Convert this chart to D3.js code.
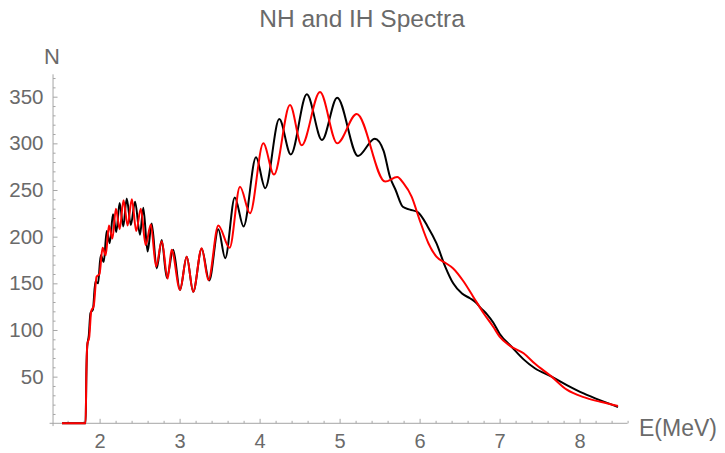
<!DOCTYPE html>
<html><head><meta charset="utf-8">
<script src="https://cdn.jsdelivr.net/npm/d3@7"></script>
<style>
body{margin:0;background:#fff}
text{font-family:"Liberation Sans",Arial,sans-serif}
</style>
</head><body>
<svg id="c" width="725" height="453"></svg>
<script>
const title = "NH and IH Spectra";
const xLabel = "E(MeV)";
const yLabel = "N";
const xTickValues = [2, 3, 4, 5, 6, 7, 8];
const yTickValues = [50, 100, 150, 200, 250, 300, 350];

// NH spectrum (black)
const nhE = [1.53, 1.825, 1.835, 1.845, 1.865, 1.886, 1.917, 1.947, 1.981, 2.014, 2.052, 2.089, 2.127, 2.167, 2.209, 2.25, 2.296, 2.339, 2.39, 2.443, 2.505, 2.546, 2.60, 2.651, 2.714, 2.776, 2.84, 2.92, 3.005, 3.089, 3.17, 3.276, 3.37, 3.484, 3.57, 3.69, 3.80, 3.955, 4.07, 4.246, 4.39, 4.59, 4.78, 4.97, 5.23, 5.44, 5.55, 5.63, 5.70, 5.79, 5.88, 5.98, 6.10, 6.21, 6.32, 6.42, 6.53, 6.63, 6.71, 6.76, 6.84, 6.92, 7.00, 7.15, 7.30, 7.44, 7.65, 7.84, 8.05, 8.26, 8.48];
const nhN = [0, 0, 55, 82, 94, 118, 122, 152, 150, 180, 173, 206, 193, 224, 205, 236, 211, 241, 212.5, 237.5, 202, 231, 184, 214, 166, 196.5, 156, 186, 143, 178.6, 141, 187, 153, 208, 177, 242, 211, 285, 252, 326, 288, 352.6, 303.6, 349, 286.5, 305, 292, 264, 250, 232, 229, 226, 211, 193, 168, 150, 139, 134, 129, 124, 117, 108, 96, 82, 68.5, 59, 50, 41, 32, 24.5, 17.5];

// IH spectrum (red)
const ihE = [1.53, 1.825, 1.835, 1.847, 1.87, 1.895, 1.927, 1.962, 1.999, 2.037, 2.076, 2.117, 2.160, 2.204, 2.251, 2.299, 2.350, 2.403, 2.458, 2.515, 2.576, 2.640, 2.706, 2.777, 2.851, 2.90, 3.005, 3.089, 3.17, 3.276, 3.36, 3.484, 3.625, 3.755, 3.88, 4.046, 4.18, 4.38, 4.526, 4.755, 4.97, 5.214, 5.57, 5.72, 5.80, 5.90, 6.00, 6.11, 6.21, 6.32, 6.42, 6.55, 6.67, 6.80, 6.92, 7.00, 7.13, 7.30, 7.44, 7.65, 7.84, 8.05, 8.26, 8.48];
const ihN = [0, 0, 55, 85, 92, 120, 126, 157, 160, 188, 180, 212, 198, 230, 208, 239, 212, 240, 206, 230, 191, 213, 168, 195, 155, 186, 143, 178.6, 141, 187.6, 153.5, 212, 188, 253.5, 225, 300, 266.6, 341, 298, 355, 300, 331.5, 259, 264, 257, 243, 218, 193, 178.6, 172, 166, 152, 135.7, 118, 103.5, 93, 83, 75, 64, 50, 36, 28, 23, 18.5];

const svg = d3.select("#c");
svg.append("rect").attr("width", 725).attr("height", 453).attr("fill", "#fff");

const x = d3.scaleLinear().domain([2, 8]).range([99.6, 579.6]);
const y = d3.scaleLinear().domain([0, 350]).range([423.3, 96.7]);

const axisColor = "#a6a6a6";
const textColor = "#6a6a6a";

// Minor ticks
const xMinor = d3.range(1.6, 8.61, 0.2).filter(v => Math.abs(v - Math.round(v)) > 0.01);
const yMinor = d3.range(10, 371, 10).filter(v => v % 50 !== 0);

const gx = svg.append("g").attr("transform", `translate(0,${y(0)})`);
gx.call(d3.axisBottom(x).tickValues(xTickValues).tickSize(-4.5).tickPadding(11).tickFormat(d3.format("d")));
const gxm = svg.append("g").attr("transform", `translate(0,${y(0)})`);
gxm.call(d3.axisBottom(x).tickValues(xMinor).tickSize(-2.5).tickFormat(""));

const gy = svg.append("g").attr("transform", `translate(${x(1.418)},0)`);
gy.call(d3.axisLeft(y).tickValues(yTickValues).tickSize(-4.5).tickPadding(9.5).tickFormat(d3.format("d")));
const gym = svg.append("g").attr("transform", `translate(${x(1.418)},0)`);
gym.call(d3.axisLeft(y).tickValues(yMinor).tickSize(-2.5).tickFormat(""));

svg.selectAll(".domain").remove();
svg.selectAll(".tick line").attr("stroke", axisColor).attr("stroke-width", 1);
svg.selectAll(".tick text").attr("fill", textColor).attr("font-size", 20.5)
  .attr("font-family", '"Liberation Sans", Arial, sans-serif');
gx.selectAll(".tick text").attr("font-size", 20);

// Axis lines
svg.append("line").attr("x1", x(1.375)).attr("x2", x(8.6)).attr("y1", y(0)).attr("y2", y(0))
  .attr("stroke", axisColor).attr("stroke-width", 1);
svg.append("line").attr("x1", x(1.418)).attr("x2", x(1.418)).attr("y1", y(-3)).attr("y2", y(374))
  .attr("stroke", axisColor).attr("stroke-width", 1);

// Curves
const line = d3.line().curve(d3.curveMonotoneX).x(d => x(d[0])).y(d => y(d[1]));
const nh = nhE.map((e, i) => [e, nhN[i]]);
const ih = ihE.map((e, i) => [e, ihN[i]]);

svg.append("path").datum(nh).attr("d", line).attr("fill", "none")
  .attr("stroke", "#000").attr("stroke-width", 2).attr("stroke-linejoin", "round");
svg.append("path").datum(ih).attr("d", line).attr("fill", "none")
  .attr("stroke", "#ff0000").attr("stroke-width", 2).attr("stroke-linejoin", "round");

// Labels
svg.append("text").attr("x", 362).attr("y", 27).attr("text-anchor", "middle")
  .attr("font-size", 24.5).attr("fill", textColor).text(title);
svg.append("text").attr("x", 52).attr("y", 64).attr("text-anchor", "middle")
  .attr("font-size", 22).attr("fill", textColor).text(yLabel);
svg.append("text").attr("x", 639).attr("y", 436).attr("text-anchor", "start")
  .attr("font-size", 23).attr("fill", textColor).text(xLabel);
</script>
</body></html>
